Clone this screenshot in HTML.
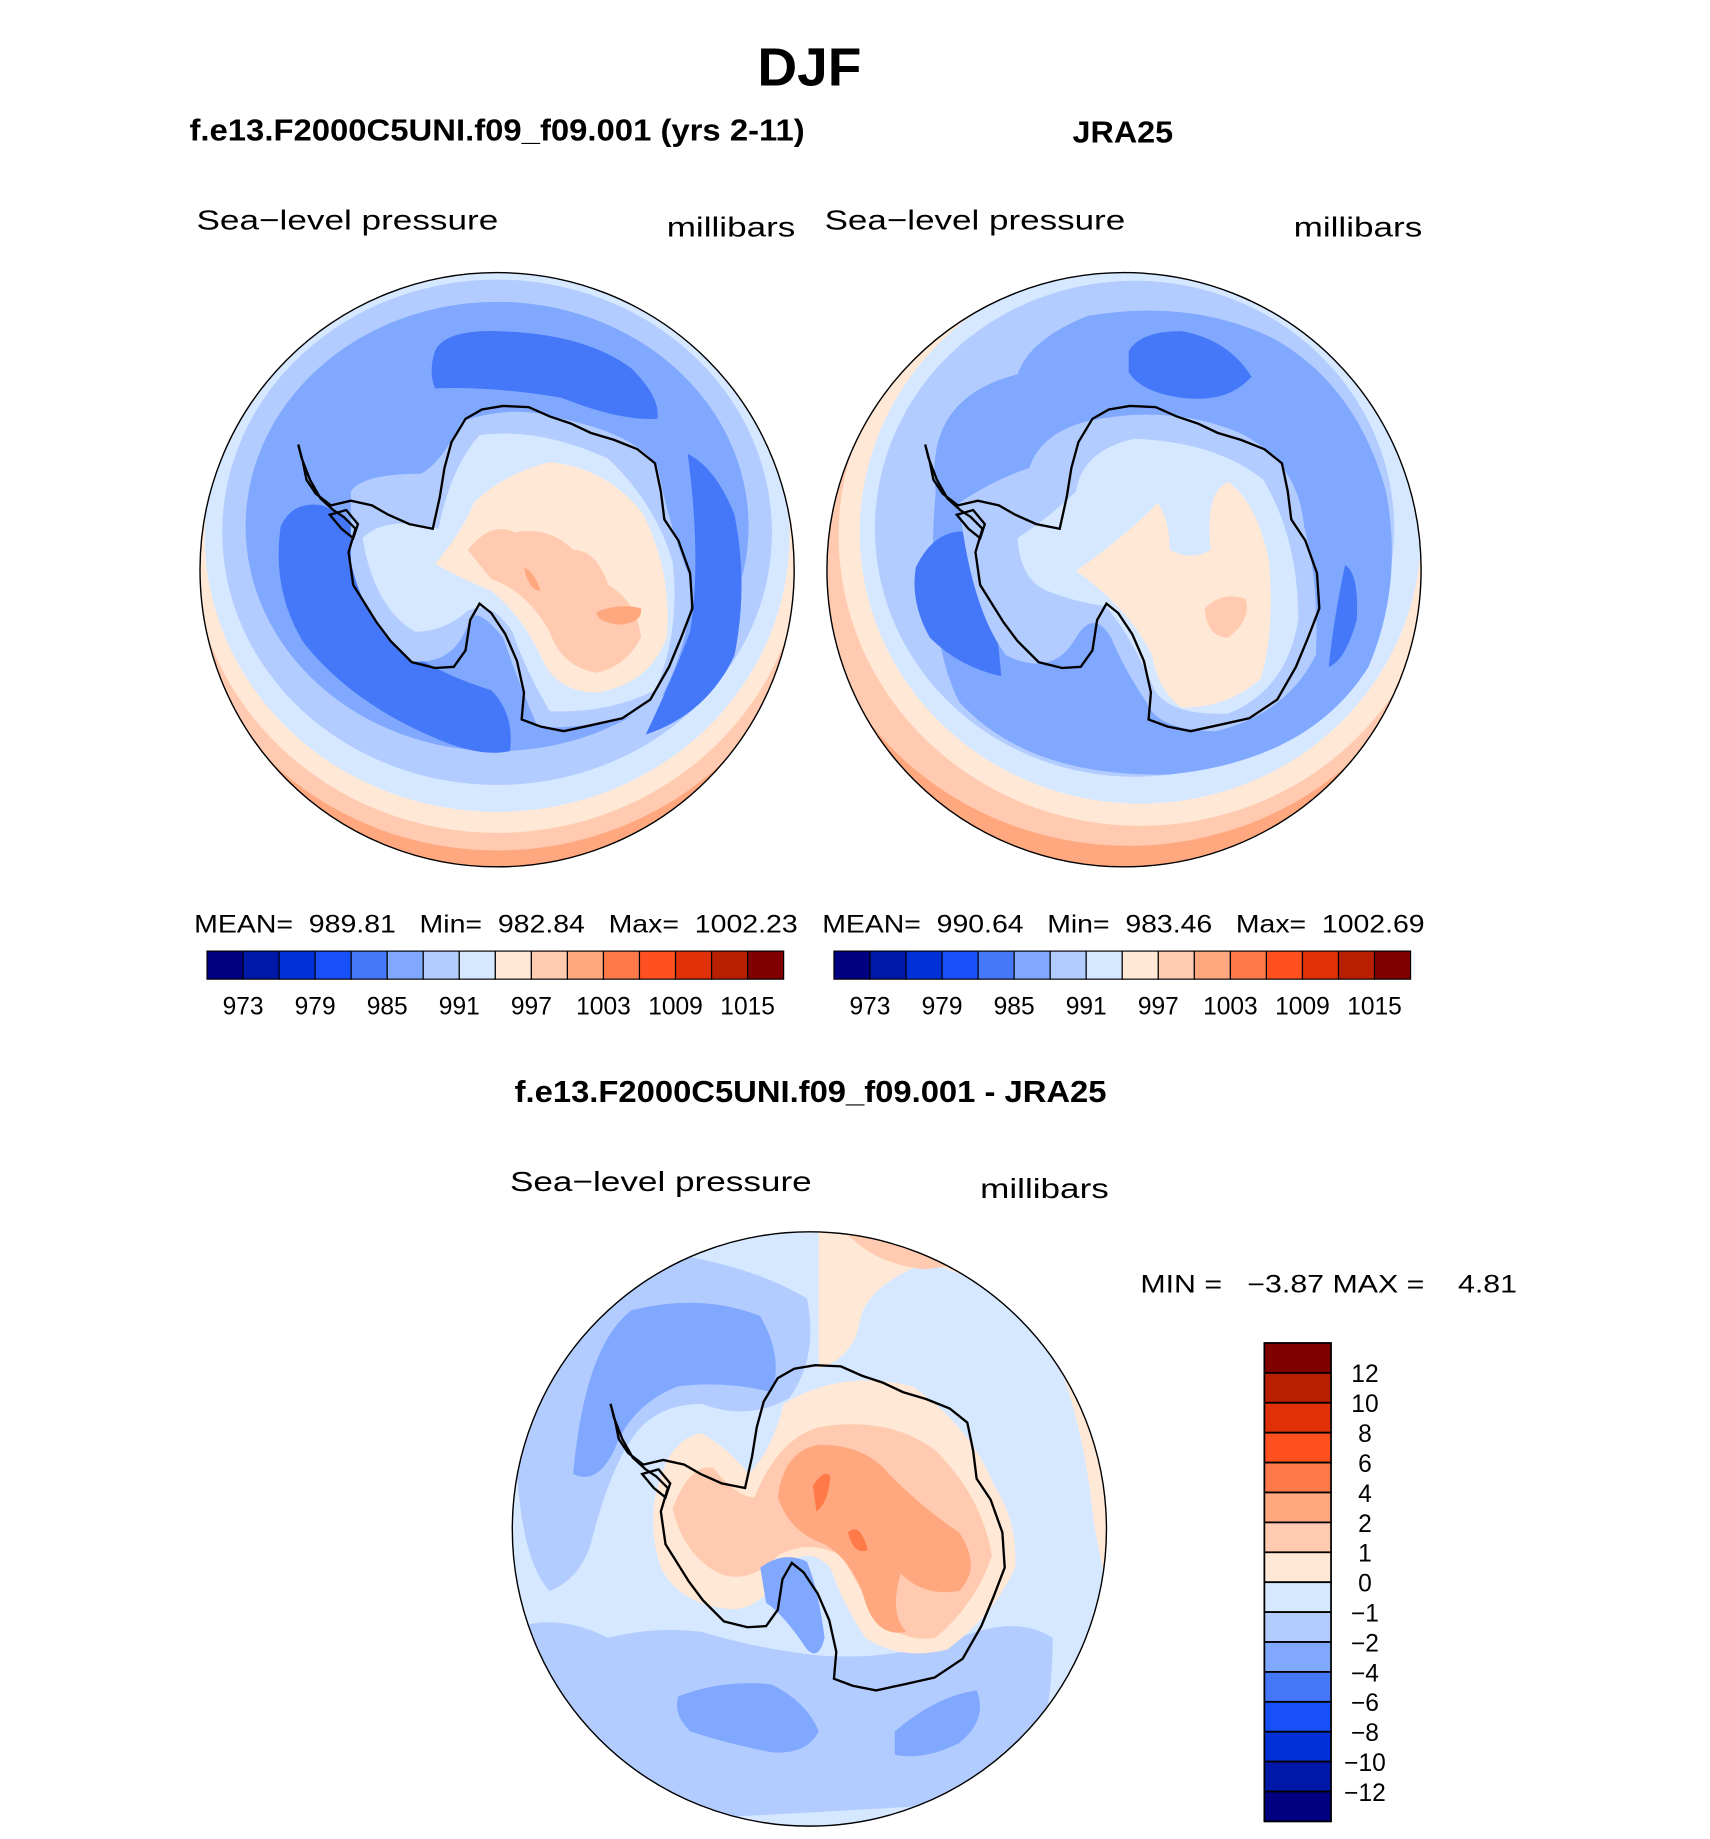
<!DOCTYPE html>
<html><head><meta charset="utf-8"><style>
html,body{margin:0;padding:0;background:#fff}
svg{display:block}
text{font-family:"Liberation Sans",sans-serif;fill:#000}
.b{font-weight:bold}
</style></head><body>
<svg id="root" width="1710" height="1839" viewBox="0 0 1462 1572" preserveAspectRatio="none" xmlns="http://www.w3.org/2000/svg">
<defs>
<path id="coast" d="M255,380 L259,395 L262,410 L270,422 L283,432 L300,428 L318,432 L332,440 L350,448 L370,452 L376,425 L380,400 L386,378 L398,358 L412,350 L430,347 L452,348 L470,356 L488,362 L505,370 L525,376 L545,384 L560,396 L565,420 L568,444 L580,462 L590,490 L592,520 L582,546 L572,570 L556,598 L532,614 L505,620 L482,625 L462,621 L446,615 L448,592 L442,565 L432,542 L420,524 L410,516 L402,530 L398,556 L388,570 L372,571 L352,566 L334,548 L322,532 L312,516 L302,500 L298,472 L304,452 L294,442 L285,436 L274,426 L265,410 L258,392 Z M282,440 L296,436 L306,448 L302,460 L292,452 Z"/>
<clipPath id="c1"><circle cx="425" cy="487" r="254"/></clipPath>
<clipPath id="c2"><circle cx="961" cy="487" r="254"/></clipPath>
<clipPath id="c3"><circle cx="692" cy="1307" r="254"/></clipPath>
</defs>

<text class="b" x="692" y="73" font-size="46" text-anchor="middle" textLength="89" lengthAdjust="spacingAndGlyphs">DJF</text>
<text class="b" x="162" y="120" font-size="26" textLength="526" lengthAdjust="spacingAndGlyphs">f.e13.F2000C5UNI.f09_f09.001 (yrs 2-11)</text>
<text class="b" x="917" y="122" font-size="26" textLength="86" lengthAdjust="spacingAndGlyphs">JRA25</text>

<text x="168" y="196" font-size="24" textLength="258" lengthAdjust="spacingAndGlyphs">Sea−level pressure</text>
<text x="570" y="202" font-size="24" textLength="110" lengthAdjust="spacingAndGlyphs">millibars</text>
<text x="705" y="196" font-size="24" textLength="257" lengthAdjust="spacingAndGlyphs">Sea−level pressure</text>
<text x="1106" y="202" font-size="24" textLength="110" lengthAdjust="spacingAndGlyphs">millibars</text>

<!-- Left map -->
<g clip-path="url(#c1)">
<rect x="160" y="220" width="540" height="540" fill="#FFA880"/>
<ellipse cx="425" cy="465" rx="275" ry="262" fill="#FFCAB0"/>
<ellipse cx="425" cy="462" rx="262" ry="250" fill="#FFE8D6"/>
<ellipse cx="425" cy="458" rx="250" ry="236" fill="#D6E8FF"/>
<ellipse cx="425" cy="455" rx="235" ry="216" fill="#B3CCFF"/>
<ellipse cx="425" cy="450" rx="215" ry="192" fill="#80A8FF"/>
<path d="M372,300 Q380,282 425,283 Q500,285 540,315 Q565,340 562,358 Q530,360 480,340 Q420,330 372,332 Q366,318 372,300 Z" fill="#4478F8"/>
<path d="M240,450 Q250,428 275,432 Q300,440 310,470 Q315,520 345,555 Q380,578 420,590 Q440,610 436,642 Q410,648 370,630 Q300,600 260,550 Q232,505 240,450 Z" fill="#4478F8"/>
<path d="M588,388 Q612,400 628,440 Q640,500 628,560 Q605,610 552,628 Q575,580 590,540 Q600,480 588,388 Z" fill="#4478F8"/>
<path d="M300,420 Q310,405 360,405 Q378,395 395,360 Q440,345 480,358 Q540,370 562,398 Q572,450 592,500 Q588,560 560,605 Q520,622 460,622 Q446,590 430,545 Q410,520 402,528 Q390,570 350,565 Q310,530 300,480 Z" fill="#B3CCFF"/>
<path d="M310,460 Q330,440 375,452 Q385,400 410,372 Q460,365 520,392 Q560,430 575,480 Q582,540 560,590 Q520,610 470,608 Q448,570 438,540 Q420,512 400,522 Q380,540 355,540 Q320,520 310,460 Z" fill="#D6E8FF"/>
<path d="M372,482 Q395,455 405,430 Q430,405 470,395 Q520,400 550,440 Q575,490 570,545 Q555,585 510,592 Q475,592 462,560 Q445,525 420,505 Q395,495 372,482 Z" fill="#FFE8D6"/>
<path d="M400,470 Q420,445 440,455 Q470,450 490,470 Q510,470 520,500 Q545,515 548,545 Q535,570 510,575 Q480,570 470,540 Q450,505 420,495 Z" fill="#FFCAB0"/>
<path d="M510,523 Q530,515 548,520 Q550,532 530,534 Q510,532 510,523 Z" fill="#FFA880"/>
<path d="M448,485 Q458,490 462,505 Q452,505 448,485 Z" fill="#FFA880"/>
<use href="#coast" fill="none" stroke="#000" stroke-width="2"/>
</g>
<circle cx="425" cy="487" r="254" fill="none" stroke="#000" stroke-width="1.2"/>

<!-- Right map -->
<g clip-path="url(#c2)">
<rect x="700" y="220" width="540" height="540" fill="#FFA880"/>
<ellipse cx="965" cy="465" rx="275" ry="258" fill="#FFCAB0"/>
<ellipse cx="975" cy="458" rx="258" ry="248" fill="#FFE8D6"/>
<ellipse cx="975" cy="455" rx="240" ry="232" fill="#D6E8FF"/>
<ellipse cx="970" cy="452" rx="222" ry="212" fill="#B3CCFF"/>
<path d="M800,420 Q790,340 870,320 Q880,290 930,270 Q1020,255 1090,290 Q1160,330 1185,420 Q1200,500 1170,570 Q1120,650 1000,662 Q880,665 820,600 Q790,540 800,420 Z" fill="#80A8FF"/>
<path d="M965,300 Q975,283 1010,283 Q1050,290 1070,322 Q1050,345 1010,340 Q975,335 965,318 Z" fill="#4478F8"/>
<path d="M783,485 Q800,450 830,455 Q850,500 856,578 Q820,570 795,545 Q778,515 783,485 Z" fill="#4478F8"/>
<path d="M1150,483 Q1162,490 1160,530 Q1150,565 1136,570 Q1140,530 1150,483 Z" fill="#4478F8"/>
<path d="M820,430 Q850,410 880,400 Q890,370 930,360 Q1000,345 1060,370 Q1110,395 1115,450 Q1128,500 1125,560 Q1100,610 1040,625 Q990,625 980,600 Q960,570 950,545 Q935,520 920,545 Q900,580 860,560 Q830,520 820,430 Z" fill="#B3CCFF"/>
<path d="M870,460 Q900,440 920,420 Q925,385 970,375 Q1040,378 1080,410 Q1110,460 1110,530 Q1100,590 1050,610 Q995,612 985,585 Q965,540 945,518 Q920,515 895,505 Q872,495 870,460 Z" fill="#D6E8FF"/>
<path d="M920,488 Q960,460 990,430 Q1000,445 1000,470 Q1020,480 1035,470 Q1030,420 1050,412 Q1075,430 1085,480 Q1090,540 1078,580 Q1050,605 1010,605 Q990,590 985,560 Q965,520 920,488 Z" fill="#FFE8D6"/>
<path d="M1030,520 Q1045,505 1065,512 Q1070,530 1050,545 Q1032,545 1030,520 Z" fill="#FFCAB0"/>
<use href="#coast" x="536" fill="none" stroke="#000" stroke-width="2"/>
</g>
<circle cx="961" cy="487" r="254" fill="none" stroke="#000" stroke-width="1.2"/>

<text x="166" y="797" font-size="21" textLength="516" lengthAdjust="spacingAndGlyphs" xml:space="preserve">MEAN=  989.81   Min=  982.84   Max=  1002.23</text>
<text x="703" y="797" font-size="21" textLength="515" lengthAdjust="spacingAndGlyphs" xml:space="preserve">MEAN=  990.64   Min=  983.46   Max=  1002.69</text>
<g id="cbarL"></g>
<g id="cbarR"></g>

<text class="b" x="440" y="942" font-size="26" textLength="506" lengthAdjust="spacingAndGlyphs">f.e13.F2000C5UNI.f09_f09.001 - JRA25</text>
<text x="436" y="1018" font-size="24" textLength="258" lengthAdjust="spacingAndGlyphs">Sea−level pressure</text>
<text x="838" y="1024" font-size="24" textLength="110" lengthAdjust="spacingAndGlyphs">millibars</text>
<text x="975" y="1105" font-size="21" textLength="322" lengthAdjust="spacingAndGlyphs" xml:space="preserve">MIN =   −3.87 MAX =    4.81</text>

<!-- Difference map -->
<g clip-path="url(#c3)">
<rect x="430" y="1050" width="530" height="530" fill="#D6E8FF"/>
<path d="M700,1050 L960,1050 L960,1400 Q945,1360 935,1300 Q925,1200 890,1130 Q840,1090 790,1080 Q740,1100 735,1130 Q730,1160 700,1170 Z" fill="#FFE8D6"/>
<path d="M720,1050 Q745,1080 790,1085 Q830,1082 850,1060 Z" fill="#FFCAB0"/>
<path d="M735,1110 Q790,1095 860,1110 Q930,1200 945,1350 L960,1350 L960,1050 Z" fill="#D6E8FF" opacity="0"/>
<path d="M440,1200 Q470,1090 560,1070 Q640,1080 690,1110 Q700,1160 675,1195 Q640,1215 600,1200 Q560,1200 540,1230 Q520,1260 505,1320 Q495,1350 470,1360 Q440,1330 440,1200 Z" fill="#B3CCFF"/>
<path d="M490,1260 Q500,1150 540,1120 Q600,1105 650,1125 Q670,1160 660,1190 Q620,1180 580,1185 Q540,1200 525,1240 Q510,1270 490,1260 Z" fill="#80A8FF"/>
<path d="M445,1390 Q480,1380 520,1400 Q560,1390 600,1395 Q650,1410 700,1415 Q760,1420 820,1400 Q870,1380 900,1400 Q900,1500 860,1540 L500,1560 Q450,1480 445,1390 Z" fill="#B3CCFF"/>
<path d="M580,1450 Q620,1435 660,1440 Q690,1455 700,1480 Q690,1500 660,1498 Q620,1490 590,1480 Q575,1465 580,1450 Z" fill="#80A8FF"/>
<path d="M765,1480 Q800,1450 835,1445 Q845,1470 820,1490 Q790,1505 765,1500 Z" fill="#80A8FF"/>
<path d="M560,1280 Q570,1230 600,1225 Q625,1240 640,1260 Q660,1240 670,1200 Q720,1170 780,1185 Q830,1220 850,1270 Q870,1300 868,1340 Q850,1380 810,1410 Q770,1420 740,1400 Q720,1370 710,1340 Q690,1320 670,1340 Q650,1380 620,1375 Q580,1370 565,1340 Q555,1310 560,1280 Z" fill="#FFE8D6"/>
<path d="M575,1290 Q590,1250 610,1255 Q630,1280 645,1280 Q665,1230 700,1220 Q760,1210 800,1240 Q840,1280 848,1330 Q835,1370 800,1400 Q770,1405 750,1380 Q730,1350 720,1330 Q690,1315 665,1330 Q640,1355 615,1345 Q585,1330 575,1290 Z" fill="#FFCAB0"/>
<path d="M665,1280 Q670,1240 700,1235 Q740,1235 760,1260 Q790,1290 820,1310 Q840,1340 820,1360 Q790,1365 770,1345 Q760,1380 775,1395 Q750,1400 740,1370 Q730,1335 705,1320 Q675,1310 665,1280 Z" fill="#FFA880"/>
<path d="M695,1270 Q705,1255 710,1262 Q708,1285 698,1292 Z M725,1310 Q735,1300 742,1325 Q730,1330 725,1310 Z" fill="#FF7A48"/>
<path d="M650,1340 Q670,1325 690,1335 Q700,1360 705,1400 Q700,1420 690,1410 Q670,1380 655,1370 Z" fill="#80A8FF"/>
<use href="#coast" x="267" y="820" fill="none" stroke="#000" stroke-width="2"/>
</g>
<circle cx="692" cy="1307" r="254" fill="none" stroke="#000" stroke-width="1.2"/>
<g id="cbarD"></g>
</svg>
<script>
const colors = ["#000080","#0018A8","#0030D8","#1850F8","#4478F8","#80A8FF","#B3CCFF","#D6E8FF","#FFE8D6","#FFCAB0","#FFA880","#FF7A48","#FF5020","#E03008","#B81E00","#800000"];
const absLevels = [973,976,979,982,985,988,991,994,997,1000,1003,1006,1009,1012,1015];
const absLabels = ["973","979","985","991","997","1003","1009","1015"];
const diffLevels = [-12,-10,-8,-6,-4,-2,-1,0,1,2,4,6,8,10,12];
const NS = "http://www.w3.org/2000/svg";
function mk(tag, attrs, parent){const e=document.createElementNS(NS,tag);for(const k in attrs)e.setAttribute(k,attrs[k]);parent.appendChild(e);return e;}
function hbar(id, x0, x1, y0, y1){
  const g=document.getElementById(id);
  const n=colors.length, w=(x1-x0)/n;
  colors.forEach((c,i)=>{
    const r=mk('rect',{x:x0+i*w,y:y0,width:w,height:y1-y0,fill:c,stroke:'#000','stroke-width':1},g);
    
    
  });
  absLevels.forEach((v,i)=>{
    if(!absLabels.includes(String(v)))return;
    const t=mk('text',{x:x0+(i+1)*w,y:y1+30,'font-size':21,'text-anchor':'middle'},g);
    t.textContent=String(v);
    
    
  });
}
hbar('cbarL',177,670,813,837);
hbar('cbarR',713,1206,813,837);
(function(){
  const g=document.getElementById('cbarD');
  const x0=1081,x1=1138,y0=1148,y1=1557,n=colors.length,h=(y1-y0)/n;
  colors.slice().reverse().forEach((c,i)=>{
    const r=mk('rect',{x:x0,y:y0+i*h,width:x1-x0,height:h,fill:c,stroke:'#000','stroke-width':1.5},g);
    
    
  });
  diffLevels.slice().reverse().forEach((v,i)=>{
    const t=mk('text',{x:1167,y:y0+(i+1)*h+8,'font-size':21,'text-anchor':'middle'},g);
    t.textContent=(v<0?'−':'')+Math.abs(v);
    
    
  });
})();
</script>
</body></html>
